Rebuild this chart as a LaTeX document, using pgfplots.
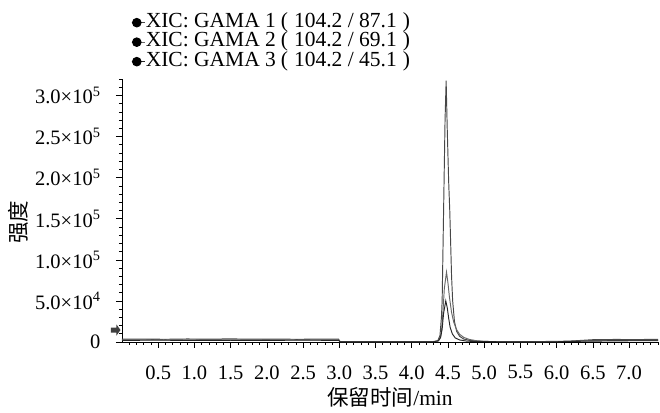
\documentclass[border=0pt]{standalone}
\usepackage{fontspec}
\setmainfont{Liberation Serif}
\newfontfamily\cjk{Noto Sans CJK SC}
\usepackage{pgfplots}
\pgfplotsset{compat=1.18}

% extracted ion chromatograms, retention time (min) vs intensity
\pgfplotstableread{
x y
0.00 3400
0.30 3600
0.60 3300
0.90 3700
1.20 3500
1.50 3800
1.80 3400
2.10 3600
2.40 3300
2.70 3500
2.99 3400
3.01 600
3.50 500
4.00 500
4.30 600
4.36 1500
4.39 8000
4.41 30000
4.42 50000
4.44 160000
4.46 270000
4.475 318000
4.49 260000
4.51 195000
4.525 160000
4.55 80000
4.565 50000
4.59 25000
4.62 13000
4.66 7000
4.72 3500
4.80 2000
4.90 1200
5.00 700
5.10 600
5.50 500
6.00 700
6.20 1200
6.50 2800
6.80 3100
7.10 3000
7.40 3200
}\gamaA

\pgfplotstableread{
x y
0.00 2600
0.40 2800
0.80 2500
1.20 2900
1.60 2600
2.00 2800
2.40 2500
2.80 2700
2.99 2600
3.01 300
3.50 300
4.00 300
4.30 300
4.36 1000
4.39 4000
4.41 12000
4.43 35000
4.45 65000
4.48 85000
4.50 72000
4.52 55000
4.55 36000
4.58 24000
4.62 15000
4.66 9500
4.72 5500
4.80 3000
4.90 1500
5.00 800
5.10 500
5.50 300
6.00 400
6.30 1200
6.60 2000
7.00 2100
7.40 2000
}\gamaB

\pgfplotstableread{
x y
0.00 2000
0.50 2200
1.00 1900
1.50 2100
2.00 2000
2.50 2200
2.99 2000
3.01 200
3.50 200
4.00 200
4.30 300
4.37 1500
4.40 6000
4.42 16000
4.44 35000
4.47 50000
4.49 42000
4.51 29000
4.53 18000
4.56 10000
4.60 5000
4.66 2500
4.75 1200
4.85 600
5.00 400
5.50 200
6.00 300
6.40 1000
7.00 1500
7.40 1500
}\gamaC

\begin{document}
\begin{tikzpicture}[font=\fontsize{21.5bp}{23bp}\selectfont]
\useasboundingbox (0,0) rectangle (660bp,413bp);
\begin{axis}[
  at={(122bp,71bp)}, anchor=south west,
  scale only axis, width=536bp, height=263bp,
  xmin=0, xmax=7.4, ymin=0, ymax=320000,
  clip=false,
  axis lines*=left,
  axis line style={black, line width=0.8bp},
  tick align=outside,
  major tick length=6bp, minor tick length=3bp,
  every tick/.style={black, line width=0.6bp},
  tick label style={font=\fontsize{20.5bp}{22bp}\selectfont},
  xticklabel style={yshift=-14bp},
  yticklabel style={xshift=-12bp},
  xtick={0.5,1.0,1.5,2.0,2.5,3.0,3.5,4.0,4.5,5.0,5.5,6.0,6.5,7.0},
  xticklabels={0.5,1.0,1.5,2.0,2.5,3.0,3.5,4.0,4.5,5.0,5.5,6.0,6.5,7.0},
  minor xtick={0.1,0.2,0.3,0.4,0.6,0.7,0.8,0.9,1.1,1.2,1.3,1.4,1.6,1.7,1.8,1.9,2.1,2.2,2.3,2.4,2.6,2.7,2.8,2.9,3.1,3.2,3.3,3.4,3.6,3.7,3.8,3.9,4.1,4.2,4.3,4.4,4.6,4.7,4.8,4.9,5.1,5.2,5.3,5.4,5.6,5.7,5.8,5.9,6.1,6.2,6.3,6.4,6.6,6.7,6.8,6.9,7.1,7.2,7.3,7.4},
  ytick={0,50000,100000,150000,200000,250000,300000},
  yticklabels={0,5.0×10\textsuperscript{4},1.0×10\textsuperscript{5},1.5×10\textsuperscript{5},2.0×10\textsuperscript{5},2.5×10\textsuperscript{5},3.0×10\textsuperscript{5}},
  minor ytick={10000,20000,30000,40000,60000,70000,80000,90000,110000,120000,130000,140000,160000,170000,180000,190000,210000,220000,230000,240000,260000,270000,280000,290000,310000,320000},
  scaled y ticks=false,
  xlabel={{\cjk 保留时间}/min},
  xlabel style={at={(axis description cs:0.5,-0.212)}, anchor=center},
  ylabel={\cjk 强度},
  ylabel style={at={(axis description cs:-0.193,0.456)}, anchor=center},
  legend style={at={(axis description cs:0.017,1.252)}, anchor=north west,
    draw=none, fill=none, inner sep=0pt, row sep=0pt,
    nodes={text height=14bp, text depth=4.5bp, inner sep=0.5bp, font=\fontsize{21.5bp}{23bp}\selectfont}},
  legend cell align=left,
  legend image code/.code={\path (0,0) rectangle (13bp,0); \fill[black] (5bp,0) circle (4.3bp);},
]
\addplot[black!72, line width=0.95bp] table {\gamaA};
\addplot[black!60, line width=0.95bp] table {\gamaB};
\addplot[black!85, line width=0.95bp] table {\gamaC};
\legend{XIC: GAMA 1\hspace{5bp}(\hspace{6bp}104.2 / 87.1\hspace{6bp}),
        XIC: GAMA 2\hspace{5bp}(\hspace{6bp}104.2 / 69.1\hspace{6bp}),
        XIC: GAMA 3\hspace{5bp}(\hspace{6bp}104.2 / 45.1\hspace{6bp})}
% marker on the intensity axis
\fill[black!75]
  ([shift={(-11bp,-2.5bp)}]axis cs:0,14600) --
  ([shift={(-5.5bp,-2.5bp)}]axis cs:0,14600) --
  ([shift={(-5.5bp,-5.5bp)}]axis cs:0,14600) --
  ([shift={(-1.5bp,0bp)}]axis cs:0,14600) --
  ([shift={(-5.5bp,5.5bp)}]axis cs:0,14600) --
  ([shift={(-5.5bp,2.5bp)}]axis cs:0,14600) --
  ([shift={(-11bp,2.5bp)}]axis cs:0,14600) -- cycle;
\end{axis}
\end{tikzpicture}
\end{document}
